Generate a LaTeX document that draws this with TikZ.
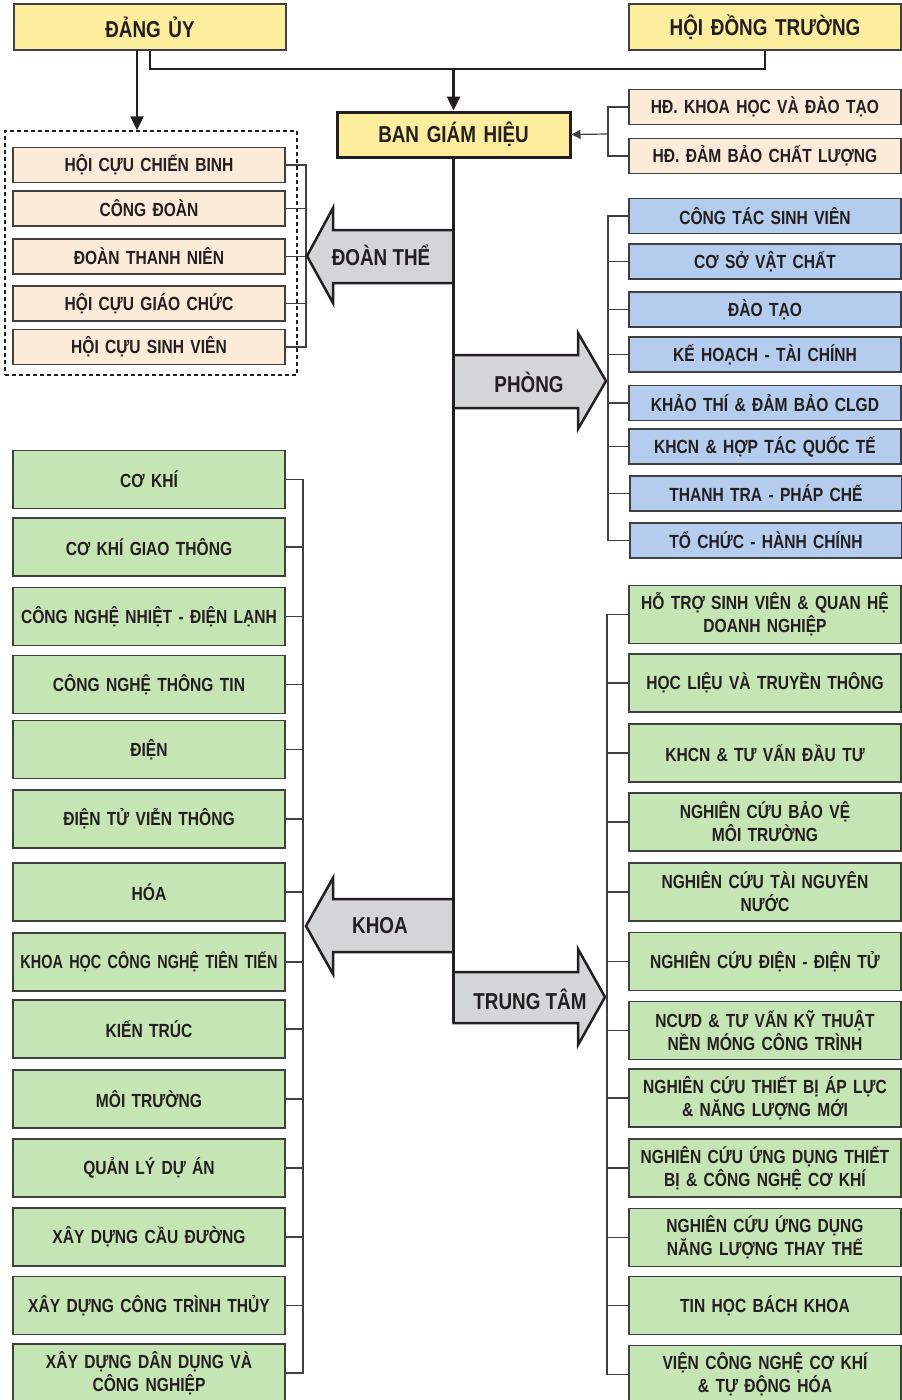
\documentclass[tikz,border=0pt]{standalone}
\usepackage{fontspec}
\setmainfont{Liberation Sans}[FakeStretch=0.82]
\newfontfamily\tightfont{Liberation Sans}[FakeStretch=0.76]
\usetikzlibrary{arrows.meta}

\definecolor{inkcol}{HTML}{231F20}
\definecolor{edgecol}{HTML}{404040}
\definecolor{headfill}{HTML}{FCEE9D}
\definecolor{councilfill}{HTML}{FDEBD9}
\definecolor{officefill}{HTML}{B4CCEE}
\definecolor{unitfill}{HTML}{C6E5B4}
\definecolor{armfill}{HTML}{D4D5D7}

\tikzset{
  orgbox/.style={draw=edgecol, line width=1.2pt, text=inkcol, minimum width=272pt,
    text width=268pt, align=center, inner sep=0pt, font=\bfseries\fontsize{19}{23}\selectfont},
  headbox/.style={orgbox, fill=headfill, minimum height=46pt,
    font=\bfseries\fontsize{23}{27}\selectfont},
  councilbox/.style={orgbox, fill=councilfill, minimum height=35pt},
  officebox/.style={orgbox, fill=officefill, minimum height=35pt},
  facultybox/.style={orgbox, fill=unitfill, minimum height=58pt},
  armshape/.style={draw=inkcol, line width=2.5pt, fill=armfill, line join=miter},
  armlabel/.style={text=inkcol, font=\bfseries\fontsize{23}{27}\selectfont},
  trunkline/.style={draw=inkcol, line width=3pt},
  linkline/.style={draw=edgecol, line width=1.2pt},
}

\begin{document}
\begin{tikzpicture}[x=1pt,y=-1pt]
      \useasboundingbox (0,0) rectangle (902,1400);
      %%%%%%%%%%%%%%%%%%%%%%%%%%%%%%%%%%%%%%%%%%%%%%%
      \node[headbox] at (150,27) (dangu) {ĐẢNG ỦY};
      \node[headbox] at (765,27) (hdt) {HỘI ĐỒNG TRƯỜNG};
      \node[headbox, draw=inkcol, line width=3pt, minimum width=233pt, text width=229pt, minimum height=45pt] at (453.5,134.5) (bgh) {BAN GIÁM HIỆU};
      \node[councilbox] at (765,107) (hdkh) {HĐ. KHOA HỌC VÀ ĐÀO TẠO};
      \node[councilbox] at (765,156) (hddb) {HĐ. ĐẢM BẢO CHẤT LƯỢNG};
      \coordinate (join) at (453.5,69);
      \coordinate (dufoot) at (137,50);
      \coordinate (hdbr) at (608,134);
      \draw[draw=inkcol, line width=2.5pt] (dangu.south) |- (join) -| (hdt.south);
      \draw[draw=inkcol, line width=2.5pt, -{Triangle[length=14pt,width=13pt]}] (join) -- (bgh.north);
      \draw[linkline] (hdkh.west) -| (hdbr) |- (hddb.west);
      \draw[linkline, -{Triangle[length=9pt,width=9pt]}] (hdbr) -- (bgh.east);
      %%%%%%%%%%%%%%%%%%%%%%%%%%%%%%%%%%%%%%%%%%%%%%%
      \node[draw=inkcol, line width=1.5pt, dash pattern=on 4pt off 3pt, minimum width=292pt, minimum height=244pt] at (151,253) (dtframe) {};
      \draw[draw=inkcol, line width=2.5pt, -{Triangle[length=14pt,width=13pt]}] (dufoot) -- (dufoot |- dtframe.north);
      \node[councilbox] at (149,165)   (hccb) {HỘI CỰU CHIẾN BINH};
      \node[councilbox] at (149,208.5) (cdoan) {CÔNG ĐOÀN};
      \node[councilbox] at (149,256.5) (dtn) {ĐOÀN THANH NIÊN};
      \node[councilbox] at (149,303.5) (hcgc) {HỘI CỰU GIÁO CHỨC};
      \node[councilbox] at (149,347)   (hcsv) {HỘI CỰU SINH VIÊN};
      \coordinate (dtbr) at (306,256);
      \draw[linkline] (hccb.east) -| (dtbr) |- (hcsv.east)
            (cdoan.east) -- (cdoan.east -| dtbr)
            (dtn.east) -- (dtn.east -| dtbr)
            (hcgc.east) -- (hcgc.east -| dtbr);
      %%%%%%%%%%%%%%%%%%%%%%%%%%%%%%%%%%%%%%%%%%%%%%%
      \coordinate (trunkend) at (453.5,1023);
      \draw[armshape] (307,256) -- (333,208) -- (333,230) -- (453.5,230) -- (453.5,283) -- (333,283) -- (333,303) -- cycle;
      \node[armlabel] at (381,255) (doanthe) {ĐOÀN THỂ};
      \draw[armshape] (606,381) -- (578,333) -- (578,355) -- (453.5,355) -- (453.5,408) -- (578,408) -- (578,429) -- cycle;
      \node[armlabel] at (529,382) (phong) {PHÒNG};
      \draw[armshape] (306,926) -- (333,878) -- (333,899) -- (453.5,899) -- (453.5,952) -- (333,952) -- (333,974) -- cycle;
      \node[armlabel] at (380,926) (khoa) {KHOA};
      \draw[armshape] (605,997) -- (578,949) -- (578,972) -- (453.5,972) -- (453.5,1023) -- (578,1023) -- (578,1045) -- cycle;
      \node[armlabel] at (530,999) (trungtam) {TRUNG TÂM};
      \draw[trunkline] (bgh.south) -- (trunkend);
      %%%%%%%%%%%%%%%%%%%%%%%%%%%%%%%%%%%%%%%%%%%%%%%
      \node[officebox] at (765,216)   (ctsv) {CÔNG TÁC SINH VIÊN};
      \node[officebox] at (765,261.5) (csvc) {CƠ SỞ VẬT CHẤT};
      \node[officebox] at (765,309.5) (daotao) {ĐÀO TẠO};
      \node[officebox] at (765,354.5) (khtc) {KẾ HOẠCH - TÀI CHÍNH};
      \node[officebox] at (765,403)   (ktdb) {KHẢO THÍ \& ĐẢM BẢO CLGD};
      \node[officebox] at (765,446.5) (khcnqt) {KHCN \& HỢP TÁC QUỐC TẾ};
      \node[officebox] at (766,493.5) (ttpc) {THANH TRA - PHÁP CHẾ};
      \node[officebox] at (766,540.5) (tchc) {TỔ CHỨC - HÀNH CHÍNH};
      \coordinate (phbr) at (608,381);
      \draw[linkline] (ctsv.west) -| (phbr) |- (tchc.west)
            (csvc.west) -- (csvc.west -| phbr)
            (daotao.west) -- (daotao.west -| phbr)
            (khtc.west) -- (khtc.west -| phbr)
            (ktdb.west) -- (ktdb.west -| phbr)
            (khcnqt.west) -- (khcnqt.west -| phbr)
            (ttpc.west) -- (ttpc.west -| phbr);
      %%%%%%%%%%%%%%%%%%%%%%%%%%%%%%%%%%%%%%%%%%%%%%%
      \node[facultybox] at (149,479.5)  (ck)   {CƠ KHÍ};
      \node[facultybox] at (149,547)    (ckgt) {CƠ KHÍ GIAO THÔNG};
      \node[facultybox] at (149,616.5)  (cnnl) {CÔNG NGHỆ NHIỆT - ĐIỆN LẠNH};
      \node[facultybox] at (149,684.5)  (cntt) {CÔNG NGHỆ THÔNG TIN};
      \node[facultybox] at (149,749.5)  (dien) {ĐIỆN};
      \node[facultybox] at (149,819)    (dtvt) {ĐIỆN TỬ VIỄN THÔNG};
      \node[facultybox] at (149,892)    (hoa)  {HÓA};
      \node[facultybox, font=\tightfont\bfseries\fontsize{19}{23}\selectfont] at (149,962) (khcn) {KHOA HỌC CÔNG NGHỆ TIÊN TIẾN};
      \node[facultybox] at (149,1029)   (ktruc) {KIẾN TRÚC};
      \node[facultybox] at (149,1099)   (mtruong) {MÔI TRƯỜNG};
      \node[facultybox] at (149,1168)   (qlda) {QUẢN LÝ DỰ ÁN};
      \node[facultybox] at (149,1237)   (xdcd) {XÂY DỰNG CẦU ĐƯỜNG};
      \node[facultybox] at (149,1305.5) (xdct) {XÂY DỰNG CÔNG TRÌNH THỦY};
      \node[facultybox] at (149,1373)   (xddd) {XÂY DỰNG DÂN DỤNG VÀ\\CÔNG NGHIỆP};
      \coordinate (khbr) at (303,926);
      \draw[linkline] (ck.east) -| (khbr) |- (xddd.east)
            (ckgt.east) -- (ckgt.east -| khbr)
            (cnnl.east) -- (cnnl.east -| khbr)
            (cntt.east) -- (cntt.east -| khbr)
            (dien.east) -- (dien.east -| khbr)
            (dtvt.east) -- (dtvt.east -| khbr)
            (hoa.east) -- (hoa.east -| khbr)
            (khcn.east) -- (khcn.east -| khbr)
            (ktruc.east) -- (ktruc.east -| khbr)
            (mtruong.east) -- (mtruong.east -| khbr)
            (qlda.east) -- (qlda.east -| khbr)
            (xdcd.east) -- (xdcd.east -| khbr)
            (xdct.east) -- (xdct.east -| khbr);
      %%%%%%%%%%%%%%%%%%%%%%%%%%%%%%%%%%%%%%%%%%%%%%%
      \node[facultybox] at (765,614.5)  (htsv) {HỖ TRỢ SINH VIÊN \& QUAN HỆ\\DOANH NGHIỆP};
      \node[facultybox] at (765,683)    (hltt) {HỌC LIỆU VÀ TRUYỀN THÔNG};
      \node[facultybox] at (765,753)    (tvdt) {KHCN \& TƯ VẤN ĐẦU TƯ};
      \node[facultybox] at (765,822)    (bvmt) {NGHIÊN CỨU BẢO VỆ\\MÔI TRƯỜNG};
      \node[facultybox] at (765,892)    (tnn)  {NGHIÊN CỨU TÀI NGUYÊN\\NƯỚC};
      \node[facultybox] at (765,961.5)  (ddt)  {NGHIÊN CỨU ĐIỆN - ĐIỆN TỬ};
      \node[facultybox] at (765,1030.5) (nmct) {NCƯD \& TƯ VẤN KỸ THUẬT\\NỀN MÓNG CÔNG TRÌNH};
      \node[facultybox] at (765,1098)   (tbal) {NGHIÊN CỨU THIẾT BỊ ÁP LỰC\\\& NĂNG LƯỢNG MỚI};
      \node[facultybox] at (765,1168)   (udck) {NGHIÊN CỨU ỨNG DỤNG THIẾT\\BỊ \& CÔNG NGHỆ CƠ KHÍ};
      \node[facultybox] at (765,1237.5) (nltt) {NGHIÊN CỨU ỨNG DỤNG\\NĂNG LƯỢNG THAY THẾ};
      \node[facultybox] at (765,1305.5) (thbk) {TIN HỌC BÁCH KHOA};
      \node[facultybox] at (765,1374.5) (vcck) {VIỆN CÔNG NGHỆ CƠ KHÍ\\\& TỰ ĐỘNG HÓA};
      \coordinate (ttbr) at (607,997);
      \draw[linkline] (htsv.west) -| (ttbr) |- (vcck.west)
            (hltt.west) -- (hltt.west -| ttbr)
            (tvdt.west) -- (tvdt.west -| ttbr)
            (bvmt.west) -- (bvmt.west -| ttbr)
            (tnn.west) -- (tnn.west -| ttbr)
            (ddt.west) -- (ddt.west -| ttbr)
            (nmct.west) -- (nmct.west -| ttbr)
            (tbal.west) -- (tbal.west -| ttbr)
            (udck.west) -- (udck.west -| ttbr)
            (nltt.west) -- (nltt.west -| ttbr)
            (thbk.west) -- (thbk.west -| ttbr);
      %%%%%%%%%%%%%%%%%%%%%%%%%%%%%%%%%%%%%%%%%%%%%%%
\end{tikzpicture}
\end{document}
